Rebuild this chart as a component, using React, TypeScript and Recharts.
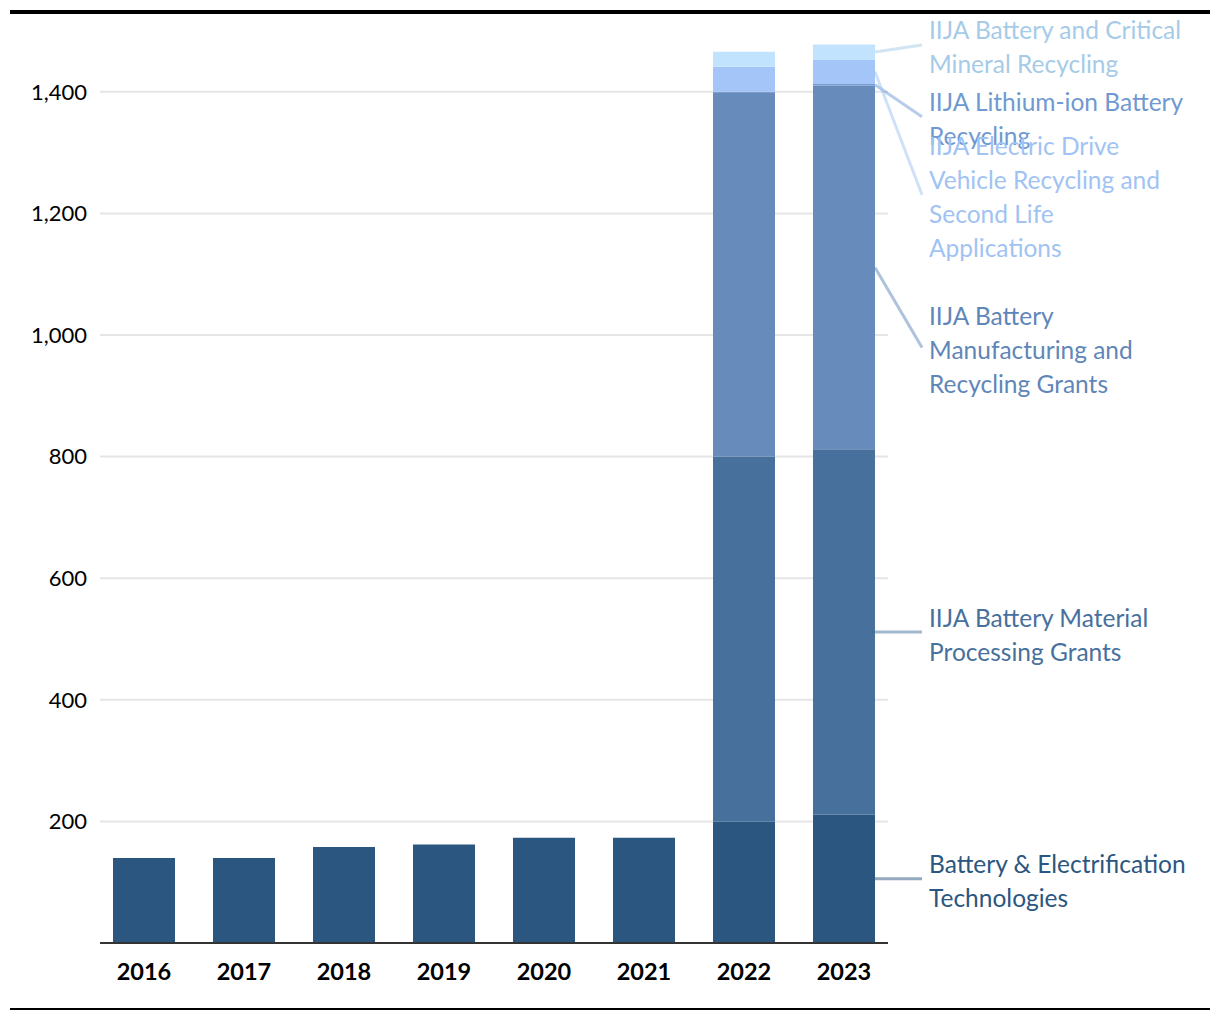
import { BarChart, Bar, XAxis, YAxis, CartesianGrid, LabelList } from 'recharts'

const years = ['2016', '2017', '2018', '2019', '2020', '2021', '2022', '2023']

const batteryElectrification = [140, 140, 158, 162, 173, 173, 200, 211]
const materialProcessing = [0, 0, 0, 0, 0, 0, 600, 601]
const manufacturingRecycling = [0, 0, 0, 0, 0, 0, 598, 598]
const lithiumIonRecycling = [0, 0, 0, 0, 0, 0, 2, 3]
const electricDriveRecycling = [0, 0, 0, 0, 0, 0, 41, 40]
const criticalMineralRecycling = [0, 0, 0, 0, 0, 0, 25, 25]

const yTicks = [200, 400, 600, 800, 1000, 1200, 1400]

const series = [
  { key: 'base', values: batteryElectrification, fill: '#2b5680', text: '#2b5680', lines: ['Battery & Electrification', 'Technologies'], shift: 0 },
  { key: 'material', values: materialProcessing, fill: '#47709c', text: '#47709c', lines: ['IIJA Battery Material', 'Processing Grants'], shift: 0 },
  { key: 'manufacturing', values: manufacturingRecycling, fill: '#678bba', text: '#5f86b8', lines: ['IIJA Battery', 'Manufacturing and', 'Recycling Grants'], shift: 80 },
  { key: 'lithium', values: lithiumIonRecycling, fill: '#7b9dcf', text: '#7099d1', lines: ['IIJA Lithium-ion Battery', 'Recycling'], shift: 32 },
  { key: 'electric', values: electricDriveRecycling, fill: '#a3c5f7', text: '#a0c3f3', lines: ['IIJA Electric Drive', 'Vehicle Recycling and', 'Second Life', 'Applications'], shift: 123 },
  { key: 'critical', values: criticalMineralRecycling, fill: '#c1e3fd', text: '#a5cbe8', lines: ['IIJA Battery and Critical', 'Mineral Recycling'], shift: -7 },
]

const data = years.map((year, i) => {
  const row: Record<string, string | number> = { year }
  series.forEach(s => { row[s.key] = s.values[i] })
  return row
})

const LABEL_X = 929
const LINE_END_X = 922
const LINE_HEIGHT = 34
const lastYear = years[years.length - 1]

function makeLabel(s: typeof series[number]) {
  const nonZero = s.values.filter(v => v !== 0).length
  return (props: any) => {
    const payload = props.payload ?? props.entry?.payload
    const isLast = payload && payload.year !== undefined
      ? payload.year === lastYear
      : props.index === years.length - 1 || (nonZero < years.length && props.index === nonZero - 1)
    if (!isLast) return null
    const vb = props.viewBox ?? props
    const x = Number(vb.x), y = Number(vb.y), w = Number(vb.width), h = Number(vb.height)
    const midY = y + h / 2
    const endY = midY + s.shift
    const center = endY + 2
    const first = center - ((s.lines.length - 1) * LINE_HEIGHT) / 2
    return (
      <g>
        <line x1={x + w} y1={midY} x2={LINE_END_X} y2={endY} stroke={s.text} strokeOpacity={0.5} strokeWidth={3} />
        <text x={LABEL_X} fill={s.text} fontSize={24.5} fontFamily="Lato">
          {s.lines.map((line, k) => (
            <tspan key={k} x={LABEL_X} y={first + k * LINE_HEIGHT} dominantBaseline="central">{line}</tspan>
          ))}
        </text>
      </g>
    )
  }
}

export default function App() {
  return (
    <div style={{ position: 'absolute', left: 0, top: 0, width: 1220, height: 1020, background: '#fff', fontFamily: 'Lato' }}>
      <div style={{ position: 'absolute', left: 10, top: 10, width: 1200, height: 4, background: '#000' }} />
      <div style={{ position: 'absolute', left: 10, top: 1008, width: 1200, height: 2, background: '#000' }} />
      <BarChart width={1220} height={1020} data={data} margin={{ top: 31, right: 332, left: 0, bottom: 37 }}>
        <CartesianGrid vertical={false} horizontalValues={yTicks} stroke="#e5e5e5" strokeWidth={2} />
        <XAxis
          dataKey="year"
          height={40}
          padding={{ left: -6, right: -6 }}
          tickLine={false}
          tickSize={0}
          tickMargin={20}
          axisLine={{ stroke: '#333', strokeWidth: 2 }}
          tick={{ fontSize: 23.5, fontWeight: 700, fill: '#000' }}
          interval={0}
        />
        <YAxis
          width={100}
          domain={[0, 1500]}
          ticks={yTicks}
          axisLine={false}
          tickLine={false}
          tickSize={0}
          tickMargin={13}
          tick={{ fontSize: 22, fill: '#000' }}
          tickFormatter={(v: number) => v.toLocaleString('en-US')}
        />
        {series.map(s => (
          <Bar key={s.key} dataKey={s.key} stackId="a" fill={s.fill} barSize={62} isAnimationActive={false}>
            <LabelList dataKey={s.key} content={makeLabel(s)} />
          </Bar>
        ))}
      </BarChart>
    </div>
  )
}
